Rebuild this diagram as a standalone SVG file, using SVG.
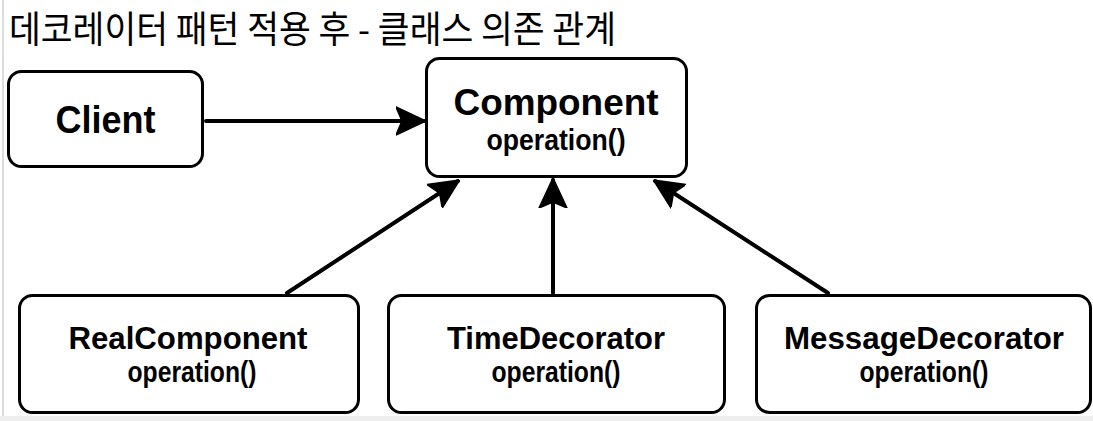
<svg xmlns="http://www.w3.org/2000/svg" width="1093" height="421" viewBox="0 0 1093 421">
  <style>
    .box { fill: #ffffff; stroke: #000000; stroke-width: 3; }
    .name { font-family: "Liberation Sans", Arial, sans-serif; font-weight: bold; fill: #000; text-anchor: middle; }
    .op { font-family: "Liberation Sans", Arial, sans-serif; font-weight: bold; fill: #000; text-anchor: middle; }
    .conn { stroke: #000; stroke-width: 4; fill: none; stroke-linecap: round; }
    .title { font-family: "Noto Sans CJK KR", "Noto Sans", sans-serif; fill: #000; }
  </style>
  <defs>
    <marker id="head" viewBox="0 0 30 30" refX="28" refY="15" markerWidth="30" markerHeight="30" markerUnits="userSpaceOnUse" orient="auto">
      <path d="M0,1 L30,15 L0,29 L6,15 Z" fill="#000" stroke="#000" stroke-width="1.5" stroke-linejoin="round"/>
    </marker>
  </defs>
  <rect x="0" y="0" width="1093" height="421" fill="#ffffff"/>
  <rect x="2" y="0" width="2" height="417" fill="#dddddd"/>
  <rect x="0" y="416" width="1093" height="5" fill="#eeeeee"/>

  <text class="title" x="9" y="43" font-size="37" textLength="607" lengthAdjust="spacingAndGlyphs">데코레이터 패턴 적용 후 - 클래스 의존 관계</text>

  <g id="connectors">
    <line class="conn" x1="206" y1="121" x2="424" y2="121" marker-end="url(#head)"/>
    <line class="conn" x1="287" y1="293" x2="458" y2="181" marker-end="url(#head)"/>
    <line class="conn" x1="553" y1="293" x2="553" y2="180" marker-end="url(#head)"/>
    <line class="conn" x1="828" y1="293" x2="655" y2="181" marker-end="url(#head)"/>
  </g>

  <g id="client">
    <rect class="box" x="8.5" y="71.5" width="194" height="95" rx="13"/>
    <text class="name" x="105.5" y="133" font-size="38" textLength="100" lengthAdjust="spacingAndGlyphs">Client</text>
  </g>

  <g id="component">
    <rect class="box" x="426.5" y="58.5" width="260" height="118" rx="13"/>
    <text class="name" x="556" y="115" font-size="36" textLength="205" lengthAdjust="spacingAndGlyphs">Component</text>
    <text class="op" x="556" y="150" font-size="30" textLength="139" lengthAdjust="spacingAndGlyphs">operation()</text>
  </g>

  <g id="realcomponent">
    <rect class="box" x="19.5" y="295.5" width="339" height="117" rx="13"/>
    <text class="name" x="188" y="349" font-size="31" textLength="239" lengthAdjust="spacingAndGlyphs">RealComponent</text>
    <text class="op" x="192" y="382" font-size="29" textLength="129" lengthAdjust="spacingAndGlyphs">operation()</text>
  </g>

  <g id="timedecorator">
    <rect class="box" x="388.5" y="295.5" width="336" height="117" rx="13"/>
    <text class="name" x="556" y="349" font-size="31" textLength="218" lengthAdjust="spacingAndGlyphs">TimeDecorator</text>
    <text class="op" x="556" y="382" font-size="29" textLength="129" lengthAdjust="spacingAndGlyphs">operation()</text>
  </g>

  <g id="messagedecorator">
    <rect class="box" x="756.5" y="295.5" width="334" height="117" rx="13"/>
    <text class="name" x="924" y="349" font-size="31" textLength="280" lengthAdjust="spacingAndGlyphs">MessageDecorator</text>
    <text class="op" x="924" y="382" font-size="29" textLength="129" lengthAdjust="spacingAndGlyphs">operation()</text>
  </g>
</svg>
